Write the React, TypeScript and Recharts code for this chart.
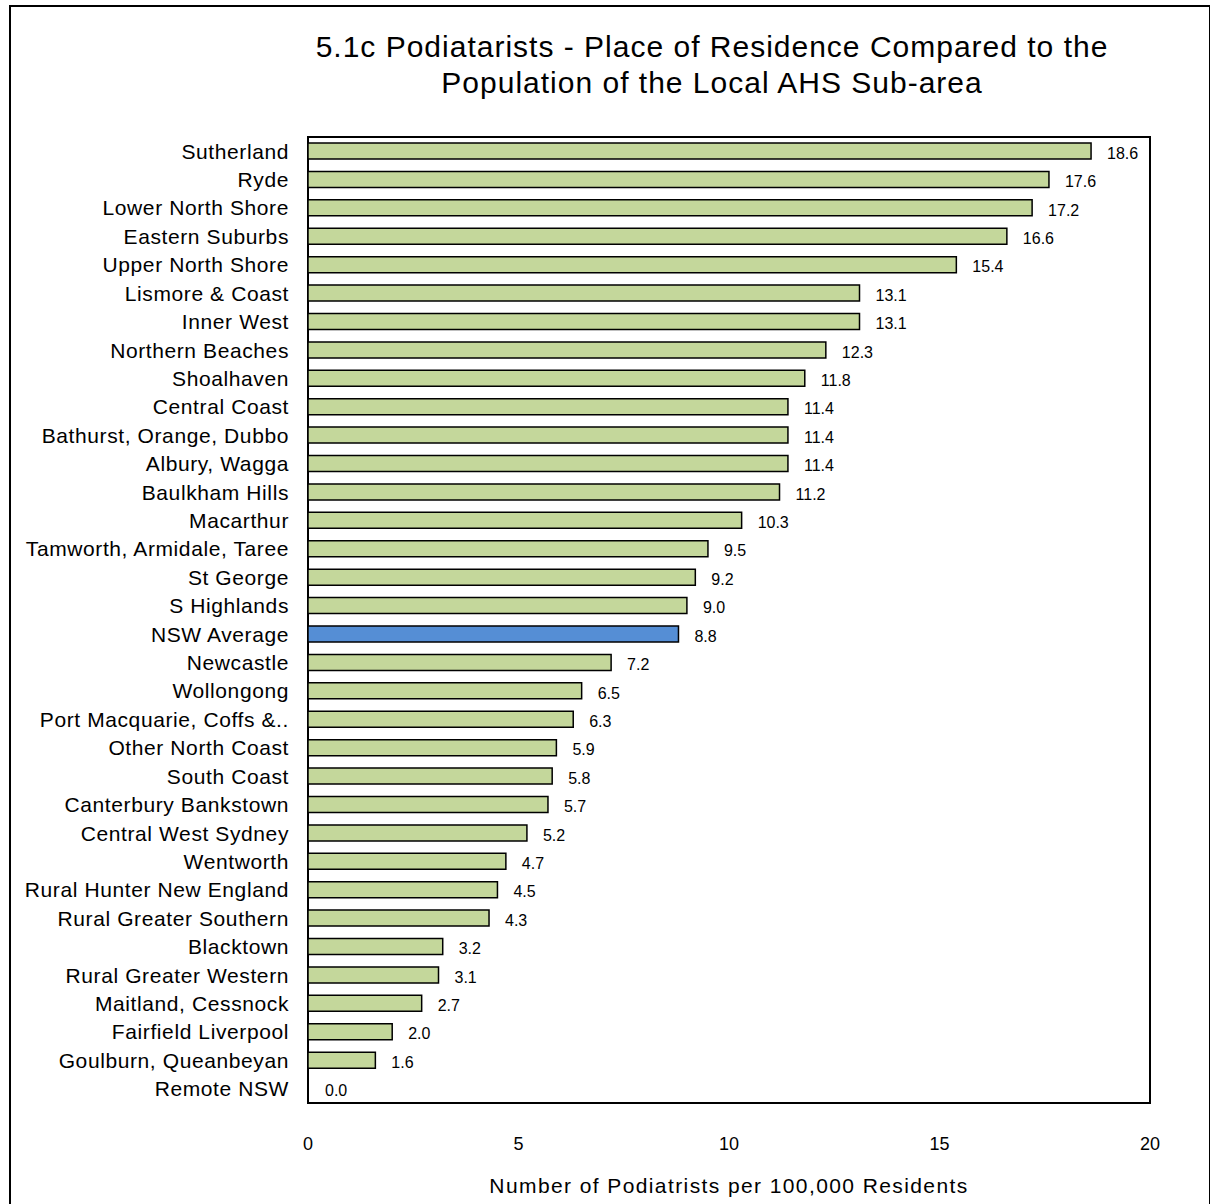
import { BarChart, Bar, XAxis, YAxis, Cell, LabelList, ReferenceArea } from 'recharts'

const areas = [
  'Sutherland',
  'Ryde',
  'Lower North Shore',
  'Eastern Suburbs',
  'Upper North Shore',
  'Lismore & Coast',
  'Inner West',
  'Northern Beaches',
  'Shoalhaven',
  'Central Coast',
  'Bathurst, Orange, Dubbo',
  'Albury, Wagga',
  'Baulkham Hills',
  'Macarthur',
  'Tamworth, Armidale, Taree',
  'St George',
  'S Highlands',
  'NSW Average',
  'Newcastle',
  'Wollongong',
  'Port Macquarie, Coffs &..',
  'Other North Coast',
  'South Coast',
  'Canterbury Bankstown',
  'Central West Sydney',
  'Wentworth',
  'Rural Hunter New England',
  'Rural Greater Southern',
  'Blacktown',
  'Rural Greater Western',
  'Maitland, Cessnock',
  'Fairfield Liverpool',
  'Goulburn, Queanbeyan',
  'Remote NSW',
]

const rates = [
  18.6, 17.6, 17.2, 16.6, 15.4, 13.1, 13.1, 12.3, 11.8, 11.4, 11.4, 11.4, 11.2, 10.3, 9.5, 9.2, 9.0,
  8.8, 7.2, 6.5, 6.3, 5.9, 5.8, 5.7, 5.2, 4.7, 4.5, 4.3, 3.2, 3.1, 2.7, 2.0, 1.6, 0.0,
]

const xTicks = [0, 5, 10, 15, 20]

const highlight = 'NSW Average'

const data = areas.map((area, i) => ({ area, rate: rates[i] }))

const font = '"Liberation Sans", Arial, sans-serif'

function barFill(area: string, rate: number) {
  if (rate === 0) return 'none'
  return area === highlight ? '#558ED5' : '#C4D79B'
}

export default function App() {
  return (
    <div
      style={{
        position: 'fixed',
        left: 9,
        top: 5,
        width: 1198,
        height: 1210,
        border: '2px solid #000',
        fontFamily: font,
        background: '#fff',
      }}
    >
      <div
        style={{
          position: 'absolute',
          left: 201,
          width: 1000,
          top: 22,
          textAlign: 'center',
          fontSize: 30,
          letterSpacing: 1,
          lineHeight: '36px',
          color: '#000',
        }}
      >
        5.1c Podiatarists - Place of Residence Compared to the
        <br />
        Population of the Local AHS Sub-area
      </div>
      <BarChart
        width={1198}
        height={1200}
        data={data}
        layout="vertical"
        margin={{ top: 130, right: 59, bottom: 8, left: 0 }}
        style={{ fontFamily: font }}
      >
        <XAxis
          type="number"
          domain={[0, 20]}
          ticks={xTicks}
          axisLine={false}
          tickLine={false}
          tickSize={0}
          tickMargin={34}
          height={96}
          tick={{ fontSize: 18, fill: '#000' }}
          label={{
            value: 'Number of Podiatrists per 100,000 Residents',
            position: 'insideBottom',
            offset: 6,
            fontSize: 21,
            letterSpacing: 1.4,
            fill: '#000',
          }}
        />
        <YAxis
          type="category"
          dataKey="area"
          width={297}
          interval={0}
          axisLine={false}
          tickLine={false}
          tickSize={0}
          tickMargin={19}
          tick={{ fontSize: 21, fill: '#000', letterSpacing: 0.6 }}
        />
        <ReferenceArea x1={0} x2={20} fill="none" stroke="#000" strokeWidth={2} ifOverflow="visible" />
        <Bar
          dataKey="rate"
          barSize={16}
          stroke="#000"
          strokeWidth={1.5}
          minPointSize={(v: number) => (v === 0 ? 1 : 0)}
          isAnimationActive={false}
        >
          {data.map((d) => (
            <Cell
              key={d.area}
              fill={barFill(d.area, d.rate)}
              stroke={d.rate === 0 ? 'none' : '#000'}
            />
          ))}
          <LabelList
            dataKey="rate"
            position="right"
            offset={16}
            formatter={(v: number) => Number(v).toFixed(1)}
            style={{ fontSize: 16, fill: '#000', transform: 'translateY(2px)' }}
          />
        </Bar>
      </BarChart>
    </div>
  )
}
